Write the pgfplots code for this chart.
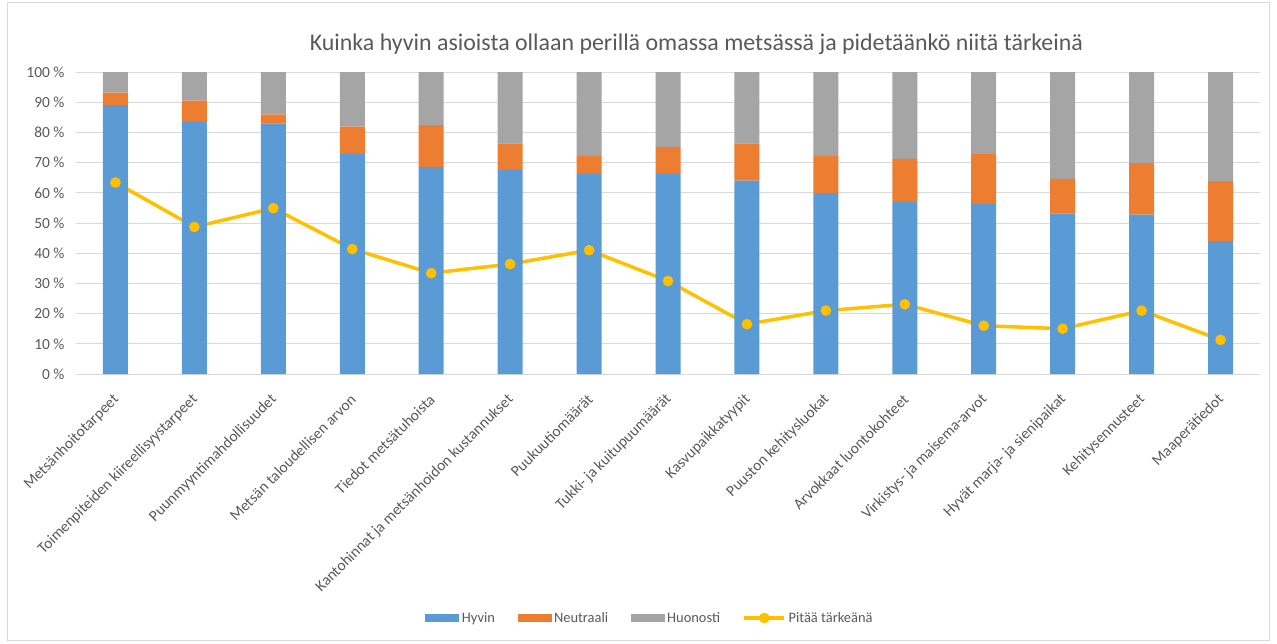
\documentclass[border=0pt]{standalone}
\usepackage{fontspec}
\setmainfont{Carlito}
\usepackage{pgfplots}
\pgfplotsset{compat=1.18}

\definecolor{hyvin}{HTML}{5B9BD5}
\definecolor{neutr}{HTML}{ED7D31}
\definecolor{huono}{HTML}{A5A5A5}
\definecolor{tarkea}{HTML}{FFC000}
\definecolor{txt}{HTML}{595959}
\definecolor{gridc}{HTML}{D9D9D9}

% x, Hyvin, Neutraali, Huonosti, Pitaa tarkeana (%)
\pgfplotstableread{
x hyvin neutr huono tarkea
0  89.0  4.2  6.8 63.4
1  83.5  7.0  9.5 48.7
2  83.0  3.0 14.0 54.9
3  72.8  9.1 18.1 41.4
4  68.6 13.8 17.6 33.4
5  67.6  8.8 23.6 36.4
6  66.3  5.9 27.8 41.0
7  66.3  8.9 24.8 30.8
8  64.0 12.4 23.6 16.5
9  59.9 12.3 27.8 21.0
10 56.9 14.3 28.8 23.1
11 56.3 16.5 27.2 16.0
12 53.2 11.4 35.4 15.0
13 52.8 17.0 30.2 21.0
14 44.0 19.9 36.1 11.3
}\datatable

\pgfplotsset{
  barleg/.style={legend image code/.code={\fill[##1,draw=none] (0bp,-4bp) rectangle (34bp,4bp);}},
  linleg/.style={legend image code/.code={\draw[##1, mark repeat=2, mark phase=2] plot coordinates {(0bp,0bp) (20bp,0bp) (40bp,0bp)};}},
}

\begin{document}
\begin{tikzpicture}
\begin{axis}[
    width=1184bp, height=302bp, scale only axis,
    ybar stacked, bar width=25bp,
    xmin=-0.5, xmax=14.5,
    ymin=0, ymax=100,
    xtick={0,...,14},
    xticklabels={Metsänhoitotarpeet, Toimenpiteiden kiireellisyystarpeet, Puunmyyntimahdollisuudet,
      Metsän taloudellisen arvon, Tiedot metsätuhoista, Kantohinnat ja metsänhoidon kustannukset,
      Puukuutiomäärät, Tukki- ja kuitupuumäärät, Kasvupaikkatyypit, Puuston kehitysluokat,
      Arvokkaat luontokohteet, Virkistys- ja maisema-arvot, Hyvät marja- ja sienipaikat,
      Kehitysennusteet, Maaperätiedot},
    xticklabel style={xshift=1bp, yshift=-23bp, rotate=45, anchor=east, inner sep=0pt,
      font=\fontsize{15.5}{17}\selectfont, text=txt},
    ytick={0,10,...,100},
    yticklabels={0 \%,10 \%,20 \%,30 \%,40 \%,50 \%,60 \%,70 \%,80 \%,90 \%,100 \%},
    yticklabel style={xshift=-8bp, font=\fontsize{15.5}{17}\selectfont, text=txt},
    ymajorgrids, grid style={gridc, line width=1bp},
    axis line style={draw=none},
    tick style={draw=none},
    title={Kuinka hyvin asioista ollaan perillä omassa metsässä ja pidetäänkö niitä tärkeinä},
    title style={at={(0.524,1.052)}, anchor=base, font=\fontsize{24}{27}\selectfont, text=txt},
    legend columns=4,
    legend style={draw=none, at={(0.485,-0.808)}, anchor=center,
      font=\fontsize{14.5}{17}\selectfont, text=txt,
      nodes={inner sep=2.5bp},
      /tikz/every even column/.append style={column sep=20bp}},
    legend cell align=left,
]
\addplot[fill=hyvin, draw=none, barleg] table[x=x, y=hyvin] {\datatable};
\addplot[fill=neutr, draw=none, barleg] table[x=x, y=neutr] {\datatable};
\addplot[fill=huono, draw=none, barleg] table[x=x, y=huono] {\datatable};
\addplot[stack plots=false, sharp plot, draw=tarkea, line width=3.5bp,
    mark=*, mark size=4.8bp, mark options={fill=tarkea, draw=tarkea, line width=1bp}, linleg]
    table[x=x, y=tarkea] {\datatable};
\legend{Hyvin, Neutraali, Huonosti, Pitää tärkeänä}
\end{axis}
\path ([shift={(-76bp,-269bp)}]current axis.south west) rectangle ([shift={(17bp,72bp)}]current axis.north east);
\draw[gridc, line width=1bp] ([shift={(-68bp,-266bp)}]current axis.south west) rectangle ([shift={(9bp,69bp)}]current axis.north east);
\end{tikzpicture}
\end{document}
